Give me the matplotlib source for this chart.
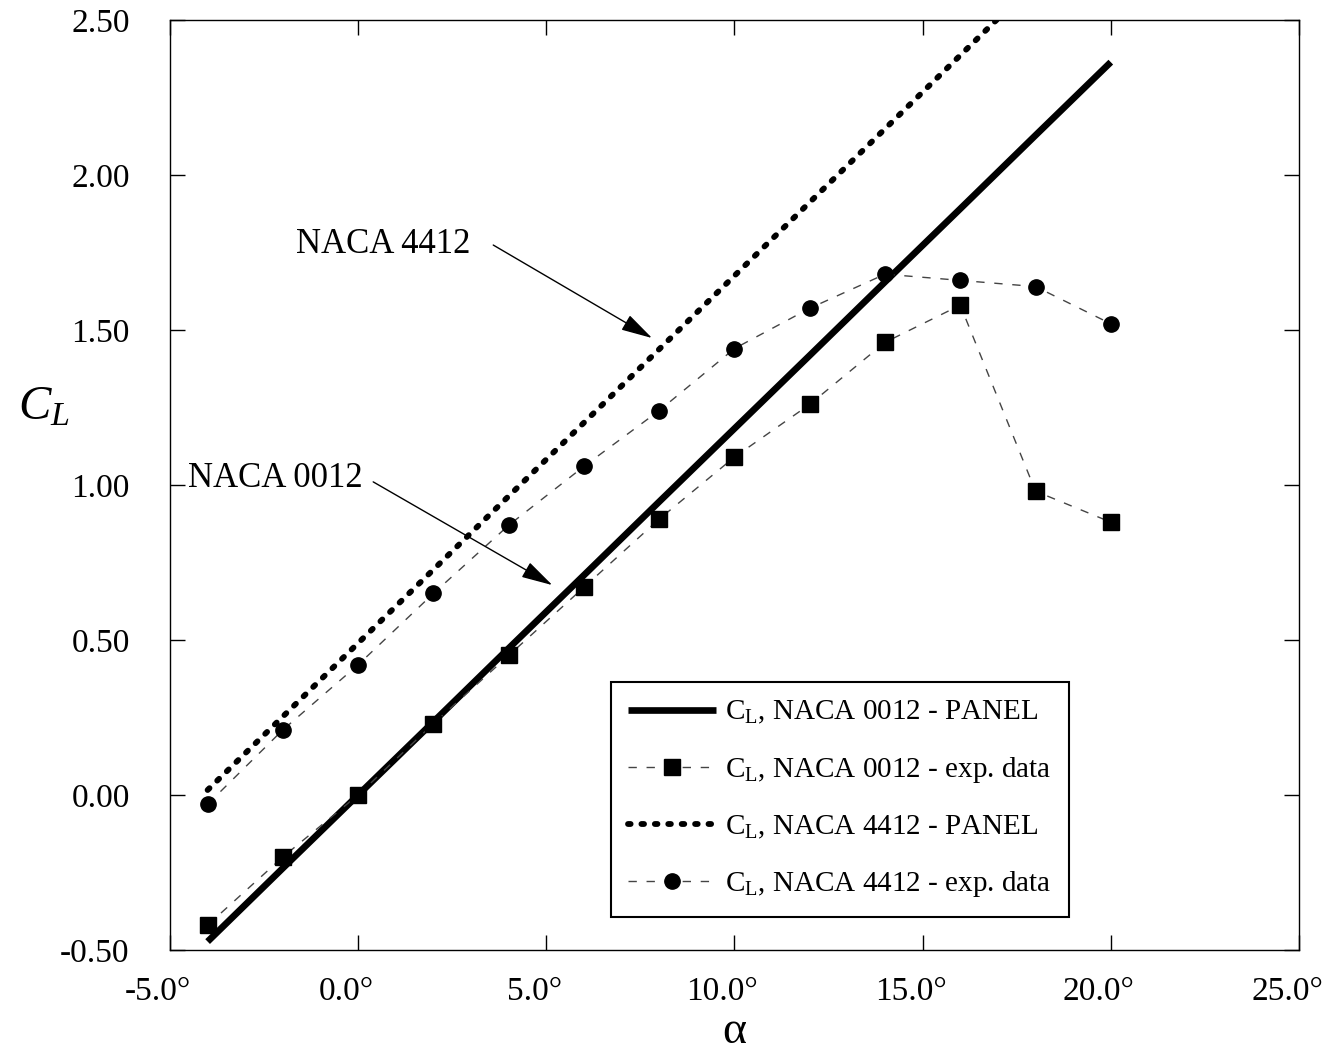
import numpy as np
import matplotlib
matplotlib.use('Agg')
from matplotlib import pyplot as plt
from matplotlib.ticker import FormatStrFormatter
from matplotlib.transforms import ScaledTranslation

plt.rcParams['font.family'] = ['Liberation Serif', 'DejaVu Serif']
plt.rcParams['mathtext.fontset'] = 'custom'
plt.rcParams['mathtext.rm'] = 'Liberation Serif'
plt.rcParams['mathtext.it'] = 'Liberation Serif:italic'
plt.rcParams['axes.unicode_minus'] = False

# angle of attack [deg]
alpha = [-4, -2, 0, 2, 4, 6, 8, 10, 12, 14, 16, 18, 20]

# panel method results
cl_0012_panel = [-0.473, -0.236, 0.000, 0.236, 0.473, 0.709, 0.946,
                 1.182, 1.418, 1.655, 1.891, 2.128, 2.364]
cl_4412_panel = [0.016, 0.253, 0.490, 0.727, 0.964, 1.201, 1.438,
                 1.675, 1.912, 2.149, 2.386, 2.623, 2.860]

# wind tunnel data
cl_0012_exp = [-0.42, -0.20, 0.00, 0.23, 0.45, 0.67, 0.89, 1.09, 1.26, 1.46, 1.58, 0.98, 0.88]
cl_4412_exp = [-0.03, 0.21, 0.42, 0.65, 0.87, 1.06, 1.24, 1.44, 1.57, 1.68, 1.66, 1.64, 1.52]

fig = plt.figure(figsize=(13.29, 10.52), dpi=100)
ax = fig.add_axes([0.1279, 0.0970, 0.8495, 0.8840])

ax.plot(alpha, cl_0012_panel, '-', color='black', lw=4.8,
        solid_capstyle='butt', label=r'C$_\mathregular{L}$, NACA 0012 - PANEL')
ax.plot(alpha, cl_0012_exp, 's', ls=(0, (6, 7)), color='#444444', lw=1.0,
        mfc='black', mec='black', ms=11.5,
        label=r'C$_\mathregular{L}$, NACA 0012 - exp. data')
ax.plot(alpha, cl_4412_panel, color='black', lw=4.2, ls=(0, (0.45, 1.85)),
        dash_capstyle='round', label=r'C$_\mathregular{L}$, NACA 4412 - PANEL')
ax.plot(alpha, cl_4412_exp, 'o', ls=(0, (6, 7)), color='#444444', lw=1.0,
        mfc='black', mec='black', ms=11,
        label=r'C$_\mathregular{L}$, NACA 4412 - exp. data')

ax.set_xlim(-5, 25)
ax.set_ylim(-0.5, 2.5)
ax.set_xticks(np.arange(-5, 26, 5))
ax.set_yticks(np.arange(-0.5, 2.51, 0.5))
ax.xaxis.set_major_formatter(FormatStrFormatter('%.1f°'))
ax.yaxis.set_major_formatter(FormatStrFormatter('%.2f'))
ax.tick_params(direction='in', top=True, right=True, length=11, width=1,
               labelsize=24)
ax.tick_params(axis='y', pad=29)
ax.tick_params(axis='x', pad=19)
for sp in ax.spines.values():
    sp.set_linewidth(1.0)

# nudge degree labels so the number sits under the tick
shift = ScaledTranslation(-12 / 100, 0, fig.dpi_scale_trans)
for lbl in ax.get_xticklabels():
    lbl.set_transform(lbl.get_transform() + shift)

ax.set_xlabel('α', fontsize=33, va='center')
ax.xaxis.set_label_coords(0.5, -0.088)
ax.set_ylabel('$C_L$', fontsize=35, rotation=0, va='center')
ax.yaxis.set_label_coords(-0.112, 0.583)

# airfoil labels
arrow = dict(arrowstyle='-|>,head_length=1.3,head_width=0.35', color='black',
             lw=1.0, mutation_scale=15, shrinkA=0, shrinkB=0)
ax.text(2.98, 1.748, 'NACA 4412', fontsize=25, ha='right', va='baseline')
ax.annotate('', xy=(7.81, 1.474), xytext=(3.59, 1.774), arrowprops=arrow)
ax.text(0.13, 0.994, 'NACA 0012', fontsize=25, ha='right', va='baseline')
ax.annotate('', xy=(5.16, 0.677), xytext=(0.40, 1.010), arrowprops=arrow)

leg = ax.legend(loc='lower left', bbox_to_anchor=(0.3906, 0.0355),
                borderaxespad=0, fontsize=21, numpoints=1, handlelength=3.0,
                handletextpad=0.3, labelspacing=0.98, fancybox=False,
                framealpha=1, edgecolor='black', borderpad=0.6)
leg.get_frame().set_linewidth(1.5)

fig.savefig('out.png', dpi=100)
